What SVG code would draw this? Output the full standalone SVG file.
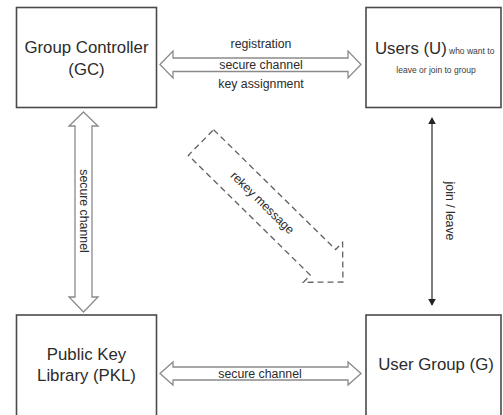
<svg xmlns="http://www.w3.org/2000/svg" width="503" height="415" viewBox="0 0 503 415">
<style>
.box{fill:#fff;stroke:#4a4a4a;stroke-width:1.6}
.big{font-family:"Liberation Sans",Arial,sans-serif;font-size:16.8px;fill:#2b2b2b}
.lbl{font-family:"Liberation Sans",Arial,sans-serif;font-size:12.3px;fill:#2b2b2b}
.small{font-family:"Liberation Sans",Arial,sans-serif;font-size:8.5px;fill:#3a3a3a}
.blk{fill:#fff;stroke:#8a8a8a;stroke-width:1.3}
.dash{fill:#fff;stroke:#606060;stroke-width:1.3;stroke-dasharray:6 4}
</style>
<defs>
<marker id="ah" viewBox="0 0 10 10" refX="9" refY="5" markerWidth="7" markerHeight="8" markerUnits="userSpaceOnUse" orient="auto-start-reverse" preserveAspectRatio="none">
<path d="M0,0 L10,5 L0,10 Z" fill="#222"/>
</marker>
</defs>
<rect width="503" height="415" fill="#fff"/>
<g id="connectors">
<path class="blk" d="M160,64.5 L173,51 L173,58 L348,58 L348,51 L361,64.5 L348,78 L348,71.5 L173,71.5 L173,78 Z"/>
<text class="lbl" x="261" y="48" text-anchor="middle">registration</text>
<text class="lbl" x="261" y="68.5" text-anchor="middle">secure channel</text>
<text class="lbl" x="261" y="88" text-anchor="middle">key assignment</text>
<path class="blk" d="M160,373.5 L173,362 L173,367 L348,367 L348,362 L361,373.5 L348,385 L348,380 L173,380 L173,385 Z"/>
<text class="lbl" x="260" y="377.5" text-anchor="middle">secure channel</text>
<path class="blk" d="M83.5,112 L98,126 L92,126 L92,297 L98,297 L83.5,312 L69,297 L75,297 L75,126 L69,126 Z"/>
<text class="lbl" transform="translate(83.5,211) rotate(90)" x="0" y="4" text-anchor="middle">secure channel</text>
<line x1="432" y1="118" x2="432" y2="305" stroke="#555" stroke-width="1.5" marker-start="url(#ah)" marker-end="url(#ah)"/>
<text class="lbl" transform="translate(446,211) rotate(90)" x="0" y="0" text-anchor="middle">join / leave</text>
<g transform="translate(201,142.5) rotate(44.5)">
<path class="dash" d="M0,-18 L171,-18 L171,-28 L199,0 L171,28 L171,18 L0,18 Z"/>
<text class="lbl" x="86" y="4" text-anchor="middle">rekey message</text>
</g>
</g>
<g id="gc">
<rect class="box" x="16.5" y="7.5" width="140" height="100"/>
<text class="big" x="86.5" y="53" text-anchor="middle">Group Controller</text>
<text class="big" x="86.5" y="75" text-anchor="middle">(GC)</text>
</g>
<g id="users">
<rect class="box" x="366" y="7.5" width="135" height="100"/>
<text class="big" x="375" y="54">Users (U)</text>
<text class="small" x="449" y="54">who want to</text>
<text class="small" x="436" y="73" text-anchor="middle">leave or join to group</text>
</g>
<g id="pkl">
<rect class="box" x="16.5" y="315" width="140" height="110"/>
<text class="big" x="86.5" y="360" text-anchor="middle">Public Key</text>
<text class="big" x="86.5" y="381" text-anchor="middle">Library (PKL)</text>
</g>
<g id="ug">
<rect class="box" x="366" y="315" width="135" height="110"/>
<text class="big" x="436" y="370" text-anchor="middle">User Group (G)</text>
</g>
</svg>
